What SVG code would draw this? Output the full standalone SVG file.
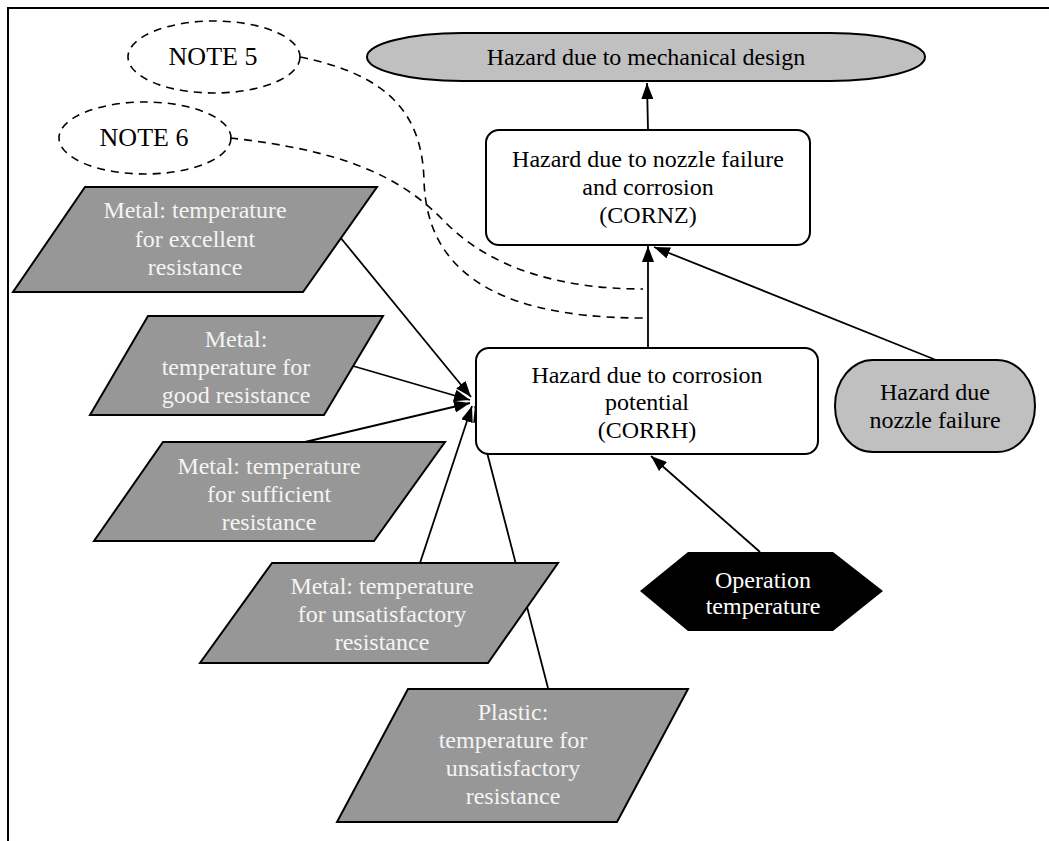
<svg xmlns="http://www.w3.org/2000/svg" width="1049" height="841" viewBox="0 0 1049 841">
  <defs>
    <marker id="arr" viewBox="0 0 16 12" refX="16" refY="6" markerWidth="16" markerHeight="12" orient="auto" markerUnits="userSpaceOnUse">
      <path d="M0,0 L16,6 L0,12 Z" fill="#000"/>
    </marker>
    <style>
      .txt { font-family: "Liberation Serif", "Times New Roman", serif; font-size: 24px; text-anchor: middle; fill: #000; }
      .note { font-size: 26px; }
      .wtxt { fill: #f4f4f4; }
      .ltxt { fill: #fff; }
      .edge { fill: none; stroke: #000; stroke-width: 1.8; }
      .dash { fill: none; stroke: #000; stroke-width: 1.6; stroke-dasharray: 8 6; }
      .box { fill: #fff; stroke: #000; stroke-width: 2; }
      .para { fill: #979797; stroke: #000; stroke-width: 2; stroke-linejoin: miter; }
      .light { fill: #c0c0c0; stroke: #000; stroke-width: 2; }
    </style>
  </defs>

  <rect width="1049" height="841" fill="#fff"/>
  <!-- frame: top and left rules -->
  <path d="M1049,8 L8,8 L8,841" fill="none" stroke="#000" stroke-width="2"/>

  <!-- connectors -->
  <g id="connectors">
    <path class="dash" d="M300,57 C390,75 422,115 424,180 C426,260 480,318 643,318"/>
    <path class="dash" d="M230,138 C340,150 400,175 445,222 C490,268 560,289 643,289"/>
    <line class="edge" x1="648" y1="130" x2="647" y2="83" marker-end="url(#arr)"/>
    <line class="edge" x1="648" y1="348" x2="648" y2="246" marker-end="url(#arr)"/>
    <line class="edge" x1="936" y1="360" x2="654" y2="247" marker-end="url(#arr)"/>
    <line class="edge" x1="760" y1="552" x2="651" y2="456" marker-end="url(#arr)"/>
    <line class="edge" x1="340" y1="237" x2="471" y2="397" marker-end="url(#arr)"/>
    <line class="edge" x1="353" y1="366" x2="470" y2="400" marker-end="url(#arr)"/>
    <line class="edge" x1="305" y1="442" x2="470" y2="403" marker-end="url(#arr)"/>
    <line class="edge" x1="420" y1="563" x2="472" y2="406" marker-end="url(#arr)"/>
    <line class="edge" x1="548" y1="688" x2="475" y2="406" marker-end="url(#arr)"/>
  </g>

  <g id="note5">
    <ellipse class="dash" cx="214" cy="57" rx="86" ry="36"/>
    <text class="txt note" x="213" y="65">NOTE 5</text>
  </g>
  <g id="note6">
    <ellipse class="dash" cx="145" cy="138" rx="86" ry="36"/>
    <text class="txt note" x="144" y="146">NOTE 6</text>
  </g>

  <g id="mechanical">
    <rect class="light" x="367" y="33" width="558" height="48" rx="95" ry="24"/>
    <text class="txt" x="646" y="65">Hazard due to mechanical design</text>
  </g>

  <g id="cornz">
    <rect class="box" x="486" y="130" width="324" height="115" rx="13"/>
    <text class="txt" x="648" y="167">Hazard due to nozzle failure</text>
    <text class="txt" x="648" y="195">and corrosion</text>
    <text class="txt" x="648" y="223">(CORNZ)</text>
  </g>

  <g id="corrh">
    <rect class="box" x="476" y="348" width="342" height="106" rx="13"/>
    <text class="txt" x="647" y="383">Hazard due to corrosion</text>
    <text class="txt" x="647" y="410">potential</text>
    <text class="txt" x="647" y="438">(CORRH)</text>
  </g>

  <g id="nozzle">
    <rect class="light" x="835" y="360" width="200" height="92" rx="38" ry="46"/>
    <text class="txt" x="935" y="400">Hazard due</text>
    <text class="txt" x="935" y="428">nozzle failure</text>
  </g>

  <g id="optemp">
    <polygon points="640,591 688,552 833,552 883,591 833,631 688,631" fill="#000"/>
    <text class="txt ltxt" x="763" y="588">Operation</text>
    <text class="txt ltxt" x="763" y="614">temperature</text>
  </g>

  <g id="metal-excellent">
    <polygon class="para" points="85,187 377,187 303,292 13,292"/>
    <text class="txt wtxt" x="195" y="218">Metal: temperature</text>
    <text class="txt wtxt" x="195" y="247">for excellent</text>
    <text class="txt wtxt" x="195" y="275">resistance</text>
  </g>

  <g id="metal-good">
    <polygon class="para" points="148,316 383,316 324,415 90,415"/>
    <text class="txt wtxt" x="236" y="347">Metal:</text>
    <text class="txt wtxt" x="236" y="375">temperature for</text>
    <text class="txt wtxt" x="236" y="403">good resistance</text>
  </g>

  <g id="metal-sufficient">
    <polygon class="para" points="163,442 445,442 374,541 94,541"/>
    <text class="txt wtxt" x="269" y="474">Metal: temperature</text>
    <text class="txt wtxt" x="269" y="502">for sufficient</text>
    <text class="txt wtxt" x="269" y="530">resistance</text>
  </g>

  <g id="metal-unsatisfactory">
    <polygon class="para" points="272,563 558,563 488,663 200,663"/>
    <text class="txt wtxt" x="382" y="594">Metal: temperature</text>
    <text class="txt wtxt" x="382" y="622">for unsatisfactory</text>
    <text class="txt wtxt" x="382" y="650">resistance</text>
  </g>

  <g id="plastic-unsatisfactory">
    <polygon class="para" points="408,689 688,689 617,822 337,822"/>
    <text class="txt wtxt" x="513" y="720">Plastic:</text>
    <text class="txt wtxt" x="513" y="748">temperature for</text>
    <text class="txt wtxt" x="513" y="776">unsatisfactory</text>
    <text class="txt wtxt" x="513" y="804">resistance</text>
  </g>
</svg>
